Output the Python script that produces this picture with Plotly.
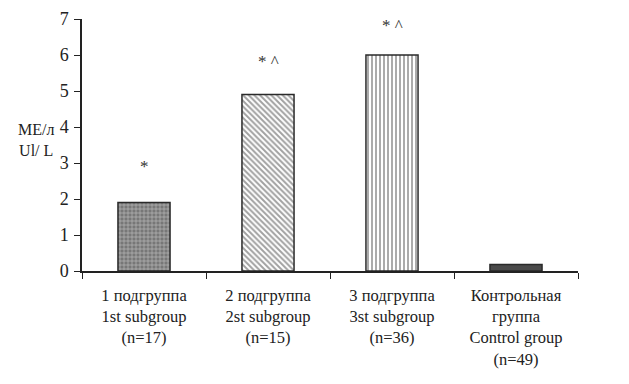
import plotly.graph_objects as go

categories = [
    "1 подгруппа<br>1st subgroup<br>(n=17)",
    "2 подгруппа<br>2st subgroup<br>(n=15)",
    "3 подгруппа<br>3st subgroup<br>(n=36)",
    "Контрольная<br>группа<br>Control group<br>(n=49)",
]
values = [1.9, 4.9, 6.0, 0.18]
marks = ["*", "* ^", "* ^", ""]
mark_shift = [36, 33, 30, 0]
y_ticks = [0, 1, 2, 3, 4, 5, 6, 7]

patterns = ["+", "\\", "|", ""]
fg = ["#f4f4f4", "#333333", "#333333", "#4a4a4a"]
bg = ["#777777", "white", "white", "#4a4a4a"]
sol = [0.3, 0.5, 0.45, 0.3]

fig = go.Figure()
fig.add_trace(go.Bar(
    x=categories, y=values,
    marker=dict(
        color=bg,
        line=dict(color="#2a2a2a", width=1.5),
        pattern=dict(shape=patterns, fgcolor=fg, bgcolor=bg, size=4, solidity=sol),
    ),
    showlegend=False,
))
for c, v, m, s in zip(categories, values, marks, mark_shift):
    if m:
        fig.add_annotation(x=c, y=v, text=m, showarrow=False, yshift=s,
                           font=dict(family="Liberation Serif", size=17, color="#333"))

fig.update_layout(
    width=629, height=384,
    margin=dict(l=74, r=59, t=11, b=121, autoexpand=False),
    paper_bgcolor="white", plot_bgcolor="white",
    bargap=0.58,
    font=dict(family="Liberation Serif", size=16, color="#222"),
)
fig.update_xaxes(
    type="category", tickson="boundaries", ticks="outside", ticklen=6,
    tickcolor="#222", showline=True, linecolor="#222", linewidth=1.5,
    showgrid=False, tickfont=dict(size=16.5), ticklabelstandoff=8,
    automargin=False,
)
fig.update_yaxes(
    range=[0, 7], tickvals=y_ticks, ticks="outside", ticklen=6, tickcolor="#222",
    showline=True, linecolor="#222", linewidth=1.5, showgrid=False, zeroline=False,
    tickfont=dict(size=18), ticklabelstandoff=2, automargin=False,
)
fig.add_annotation(
    text="МЕ/л<br>Ul/ L", xref="paper", yref="paper", x=-0.052, y=0.52,
    xanchor="right", yanchor="middle", showarrow=False, align="center",
    font=dict(size=16, family="Liberation Serif", color="#222"),
)
fig.write_html("out.html")
